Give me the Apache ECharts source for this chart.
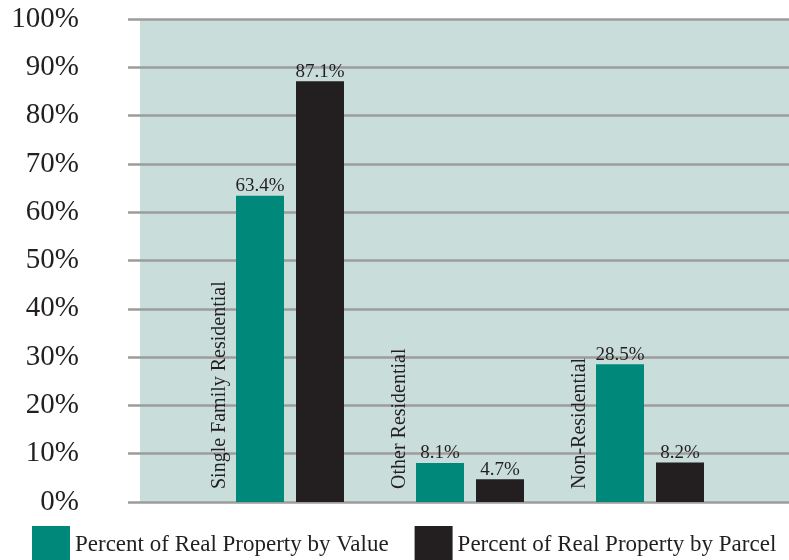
<!DOCTYPE html>
<html>
<head>
<meta charset="utf-8">
<script src="https://cdn.jsdelivr.net/npm/echarts@6/dist/echarts.min.js"></script>
<style>
  html, body { margin: 0; padding: 0; background: #ffffff; }
  #chart { width: 789px; height: 560px; }
</style>
</head>
<body>
<div id="chart"></div>
<script>
// Property categories and their shares (percent)
const categories = ['Single Family Residential', 'Other Residential', 'Non-Residential'];
const seriesNames = ['Percent of Real Property by Value', 'Percent of Real Property by Parcel'];
const byValue = [63.4, 8.1, 28.5];
const byParcel = [87.1, 4.7, 8.2];
const yTicks = { min: 0, max: 100, interval: 10 };

const SERIF = "'Liberation Serif', 'DejaVu Serif', serif";
const INK = '#231f20';
const TEAL = '#00897a';
const GRID_GRAY = '#9c9c9c';

const chart = echarts.init(document.getElementById('chart'), null, { renderer: 'canvas' });

const plotTop = 19;
const plotBottom = 58;

const barLabel = {
  show: true,
  position: 'top',
  distance: 0,
  color: INK,
  fontFamily: SERIF,
  fontSize: 19,
  formatter: p => p.value.toFixed(1) + '%'
};

chart.setOption({
  animation: false,
  backgroundColor: '#ffffff',
  grid: [
    // shaded plot area carrying the percentage scale
    { left: 140, right: 0, top: plotTop, bottom: plotBottom, show: true,
      backgroundColor: '#c9dedb', borderWidth: 0 },
    // bars
    { left: 200, width: 540, top: plotTop, bottom: plotBottom },
    // vertical category captions, set just left of each bar pair
    { left: 130, width: 540, top: plotTop, bottom: plotBottom }
  ],
  xAxis: [
    { gridIndex: 0, type: 'value', min: 0, max: 1, show: false },
    { gridIndex: 1, type: 'category', data: categories, show: false },
    { gridIndex: 2, type: 'category', data: categories,
      axisLine: { show: false }, axisTick: { show: false }, splitLine: { show: false },
      axisLabel: {
        inside: true, rotate: 90, margin: 13, interval: 0,
        align: 'left', verticalAlign: 'middle',
        color: INK, fontFamily: SERIF, fontSize: 20
      }
    }
  ],
  yAxis: [
    { gridIndex: 0, type: 'value', min: yTicks.min, max: yTicks.max, interval: yTicks.interval,
      axisLine: { show: false },
      axisTick: { show: true, inside: false, length: 12, lineStyle: { color: GRID_GRAY, width: 2.5 } },
      splitLine: { show: true, lineStyle: { color: GRID_GRAY, width: 2.5 } },
      axisLabel: { margin: 61, color: INK, fontFamily: SERIF, fontSize: 29,
        formatter: v => v + '%' }
    },
    { gridIndex: 1, type: 'value', min: yTicks.min, max: yTicks.max, show: false },
    { gridIndex: 2, type: 'value', min: yTicks.min, max: yTicks.max, show: false }
  ],
  legend: {
    left: 32, top: 526, padding: 0,
    itemWidth: 38, itemHeight: 37, itemGap: 26,
    icon: 'rect',
    textStyle: { color: INK, fontFamily: SERIF, fontSize: 23 },
    data: seriesNames
  },
  series: [
    { name: seriesNames[0], type: 'bar', xAxisIndex: 1, yAxisIndex: 1,
      data: byValue, barWidth: 48, barGap: '25%',
      itemStyle: { color: TEAL }, label: barLabel },
    { name: seriesNames[1], type: 'bar', xAxisIndex: 1, yAxisIndex: 1,
      data: byParcel, barWidth: 48, barGap: '25%',
      itemStyle: { color: INK }, label: barLabel }
  ]
});
</script>
</body>
</html>
